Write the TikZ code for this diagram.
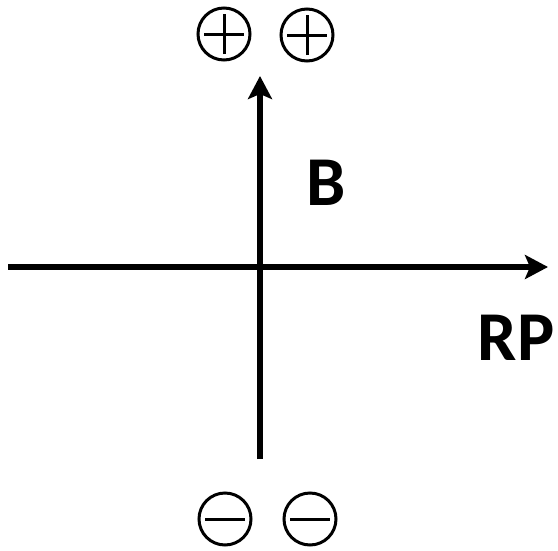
\documentclass[tikz,border=0pt]{standalone}
\usepackage{fontspec}
\setmainfont{Carlito}
\usetikzlibrary{arrows.meta}

\begin{document}
\begin{tikzpicture}[
        x=1pt, y=-1pt,
        >={Stealth[length=23pt, width=24pt, inset=5pt]},
        axis/.style={->, line width=6.5pt},
        lbl/.style={font=\bfseries\fontsize{70}{84}\selectfont, inner sep=0pt},
        sign/.style={circle, draw, line width=3pt, minimum size=52pt, inner sep=0pt},
        plus/.style={sign, path picture={
            \draw[line width=3pt] ([xshift=-20pt]path picture bounding box.center) -- ([xshift=20pt]path picture bounding box.center);
            \draw[line width=3pt] ([yshift=-20pt]path picture bounding box.center) -- ([yshift=20pt]path picture bounding box.center);}},
        minus/.style={sign, path picture={
            \draw[line width=3pt] ([xshift=-20pt]path picture bounding box.center) -- ([xshift=20pt]path picture bounding box.center);}},
    ]
        \useasboundingbox (0,0) rectangle (558,550);

        % axes
        \coordinate (west) at (8,267);
        \coordinate (east) at (548,267);
        \coordinate (south) at (260,459);
        \coordinate (north) at (260,76);
        \draw[axis] (west) -- (east);
        \draw[axis] (south) -- (north);

        \node[lbl] (b) at (326,183) {B};
        \node[lbl] (rp) at (516,338) {RP};

        % charges
        \node[plus] (posa) at (224,34) {};
        \node[plus] (posb) at (307,35) {};
        \node[minus] (nega) at (225,519) {};
        \node[minus] (negb) at (310,519) {};
\end{tikzpicture}
\end{document}
